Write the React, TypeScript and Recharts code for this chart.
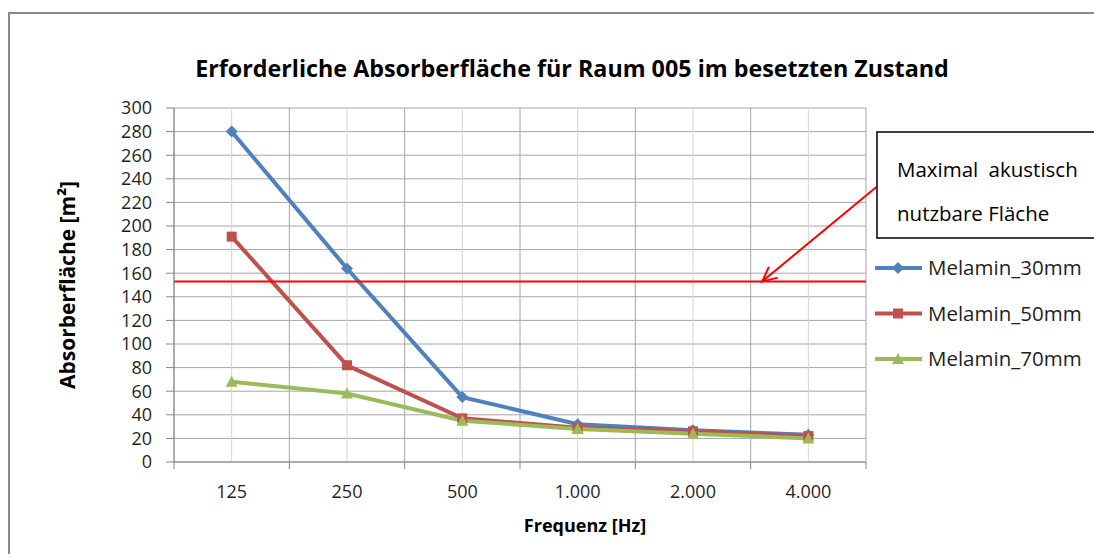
import { CartesianGrid, Line, LineChart, ReferenceLine, XAxis, YAxis } from "recharts";

const categories = ["125", "250", "500", "1.000", "2.000", "4.000"];
const melamin30 = [280, 164, 55, 32, 27, 23];
const melamin50 = [191, 82, 37, 29, 26, 22];
const melamin70 = [68, 58, 35, 28, 24, 20];
const yTicks = [0, 20, 40, 60, 80, 100, 120, 140, 160, 180, 200, 220, 240, 260, 280, 300];
const maxUsableArea = 153;
// annotation arrow, in axis units (x: category slots, y: m²)
const arrowFrom = { x: 6.09, y: 233 };
const arrowTo = { x: 5.1, y: 153 };

const series = [
  { key: "m30", name: "Melamin_30mm", color: "#4F81BD", marker: "diamond", values: melamin30 },
  { key: "m50", name: "Melamin_50mm", color: "#C0504D", marker: "square", values: melamin50 },
  { key: "m70", name: "Melamin_70mm", color: "#9BBB59", marker: "triangle", values: melamin70 },
];

const data = categories.map((label, i) => {
  const row: Record<string, any> = { x: i + 0.5, label };
  series.forEach((s) => (row[s.key] = s.values[i]));
  return row;
});

const W = 1086;
const H = 546;
const PLOT_LEFT = 166;
const PLOT_TOP = 100;
const PLOT_RIGHT = 858;
const PLOT_BOTTOM = 454;
const X_AXIS_H = 40;
const FONT = "'Open Sans', Lato, sans-serif";

const xTicks = categories.flatMap((_, i) => [i, i + 0.5]).concat(categories.length);
const slotX = (v: number) => PLOT_LEFT + ((PLOT_RIGHT - PLOT_LEFT) * v) / categories.length;
const boundaryX = categories.map((_, i) => slotX(i)).concat(slotX(categories.length));
const centerX = categories.map((_, i) => slotX(i + 0.5));

const Marker = ({ cx, cy, color, marker }: any) => {
  if (cx == null || cy == null) return null;
  if (marker === "diamond")
    return <polygon points={`${cx},${cy - 6} ${cx + 6},${cy} ${cx},${cy + 6} ${cx - 6},${cy}`} fill={color} />;
  if (marker === "square") return <rect x={cx - 5} y={cy - 5} width={10} height={10} fill={color} />;
  return <polygon points={`${cx},${cy - 6} ${cx + 6},${cy + 5} ${cx - 6},${cy + 5}`} fill={color} />;
};

const XTick = ({ x, y, payload }: any) => {
  const v = payload.value as number;
  if (Number.isInteger(v)) return <line x1={x} y1={y} x2={x} y2={y + 7} stroke="#868686" strokeWidth={1} />;
  const label = categories[Math.floor(v)];
  return (
    <text x={x} y={y + 36} textAnchor="middle" fontFamily={FONT} fontSize={18} fill="#1f1f1f">
      {label}
    </text>
  );
};

const Arrow = (props: any) => {
  const { x1, y1, x2, y2 } = props;
  if ([x1, y1, x2, y2].some((v) => v == null)) return null;
  const ang = Math.atan2(y2 - y1, x2 - x1);
  const len = 16;
  const spread = 0.45;
  const a1x = x2 - len * Math.cos(ang - spread);
  const a1y = y2 - len * Math.sin(ang - spread);
  const a2x = x2 - len * Math.cos(ang + spread);
  const a2y = y2 - len * Math.sin(ang + spread);
  return (
    <g stroke="#ff0000" strokeWidth={2} fill="none">
      <line x1={x1} y1={y1} x2={x2} y2={y2} />
      <polyline points={`${a1x},${a1y} ${x2},${y2} ${a2x},${a2y}`} />
    </g>
  );
};

export default function App() {
  return (
    <div style={{ position: "fixed", left: 0, top: 0, width: 1094, height: 554, overflow: "hidden", background: "#fff" }}>
      <style>{"html, body { overflow: hidden; }"}</style>
      <div style={{ position: "absolute", left: 8, top: 8, width: W, height: H }}>
        <LineChart
          width={W}
          height={H}
          data={data}
          margin={{ top: PLOT_TOP, right: W - PLOT_RIGHT, bottom: H - PLOT_BOTTOM - X_AXIS_H, left: 0 }}
          style={{ position: "absolute", left: 0, top: 0 }}
        >
          <CartesianGrid horizontal={true} vertical={false} stroke="#a6a6a6" />
          <CartesianGrid horizontal={false} vertical={true} verticalPoints={centerX} stroke="#d4d4d4" />
          <CartesianGrid horizontal={false} vertical={true} verticalPoints={boundaryX} stroke="#a6a6a6" />
          <XAxis
            dataKey="x"
            type="number"
            domain={[0, categories.length]}
            ticks={xTicks}
            interval={0}
            height={X_AXIS_H}
            tickLine={false}
            tickSize={0}
            tickMargin={0}
            tick={<XTick />}
            axisLine={{ stroke: "#868686" }}
          />
          <YAxis
            type="number"
            domain={[0, 300]}
            ticks={yTicks}
            interval={0}
            width={PLOT_LEFT}
            tickSize={8}
            tickMargin={14}
            tickLine={{ stroke: "#868686" }}
            axisLine={{ stroke: "#868686" }}
            tick={{ fontFamily: FONT, fontSize: 18, fill: "#1f1f1f" }}
          />
          {series.map((s) => (
            <Line
              key={s.key}
              dataKey={s.key}
              name={s.name}
              type="linear"
              stroke={s.color}
              strokeWidth={4}
              dot={(p: any) => (
                <Marker key={`${s.key}-${p.index}`} cx={p.cx} cy={p.cy} color={s.color} marker={s.marker} />
              )}
              activeDot={false}
              isAnimationActive={false}
            />
          ))}
          <ReferenceLine y={maxUsableArea} stroke="#ff0000" strokeWidth={2} />
          <ReferenceLine segment={[arrowFrom, arrowTo]} ifOverflow="visible" shape={<Arrow />} />
        </LineChart>
        <svg width={W} height={H} style={{ position: "absolute", left: 0, top: 0, pointerEvents: "none" }}>
          {/* chart frame, only its top and left edges are on the page */}
          <polyline points={`1,${H} 1,5 ${W},5`} fill="none" stroke="#8a8a8a" strokeWidth={2} />
          <text x={564} y={69} textAnchor="middle" fontFamily={FONT} fontWeight={700} fontSize={23.3} fill="#000">
            Erforderliche Absorberfläche für Raum 005 im besetzten Zustand
          </text>
          <text
            transform="translate(67, 277) rotate(-90)"
            textAnchor="middle"
            fontFamily={FONT}
            fontWeight={700}
            fontSize={21}
            fill="#000"
          >
            Absorberfläche [m²]
          </text>
          <text x={577} y={524} textAnchor="middle" fontFamily={FONT} fontWeight={700} fontSize={18} fill="#000">
            Frequenz [Hz]
          </text>
          <polyline points={`${W},124 869,124 869,230 ${W},230`} fill="#fff" stroke="#000" strokeWidth={1.5} />
          <text x={889} y={169} fontFamily={FONT} fontSize={20.5} wordSpacing={5} fill="#000">
            Maximal akustisch
          </text>
          <text x={889} y={213} fontFamily={FONT} fontSize={20.5} fill="#000">
            nutzbare Fläche
          </text>
          {series.map((s, i) => {
            const cy = 260 + i * 45.5;
            return (
              <g key={s.key}>
                <line x1={867} y1={cy} x2={914} y2={cy} stroke={s.color} strokeWidth={4} />
                <Marker cx={890} cy={cy} color={s.color} marker={s.marker} />
                <text x={920} y={cy + 7} fontFamily={FONT} fontSize={20.5} fill="#1f1f1f">
                  {s.name}
                </text>
              </g>
            );
          })}
        </svg>
      </div>
    </div>
  );
}
